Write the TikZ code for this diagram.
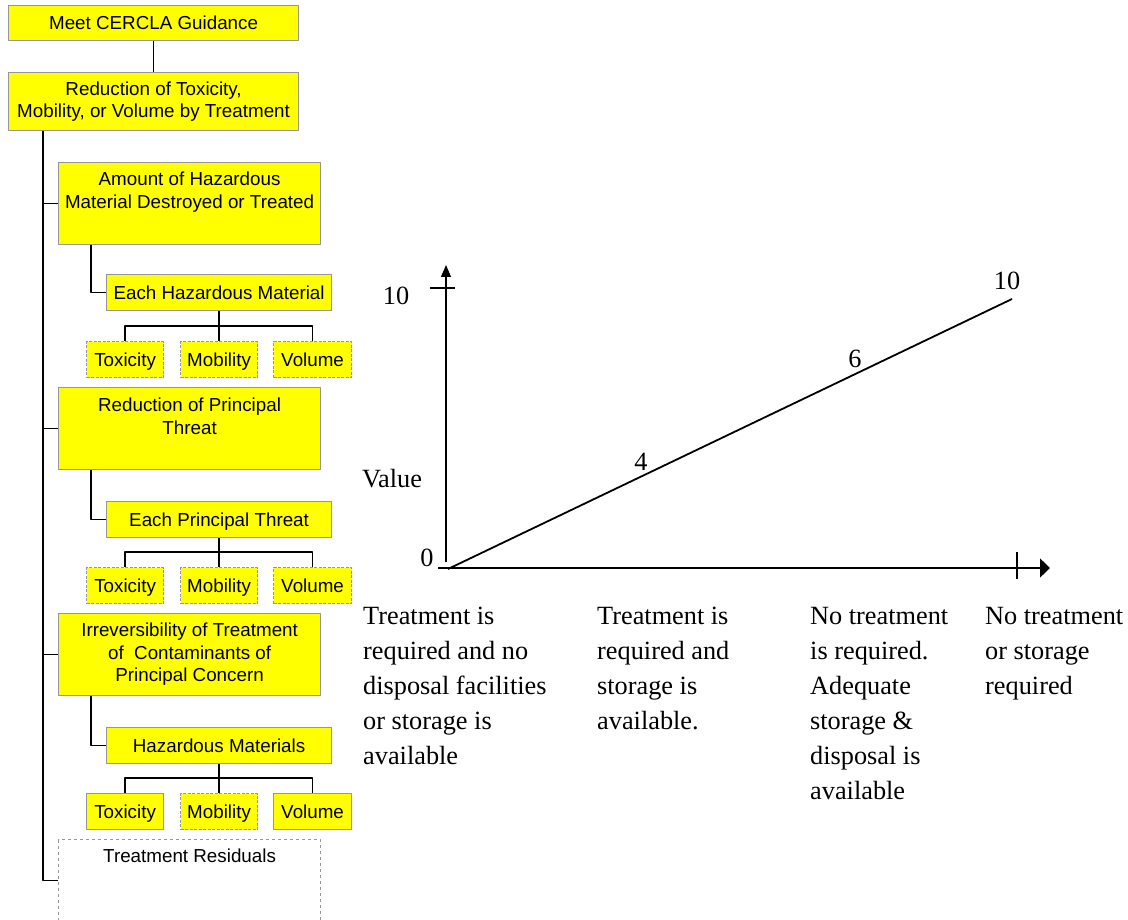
\documentclass[tikz,border=0pt]{standalone}
\usepackage{fontspec}
\setmainfont{Liberation Serif}
\newfontfamily\boxfont{Liberation Sans}
\usetikzlibrary{positioning,arrows.meta}
\definecolor{boxyellow}{RGB}{255,255,0}
\definecolor{boxgray}{RGB}{150,150,150}
\tikzset{
	crit/.style={draw=boxgray,line width=1.2pt,fill=boxyellow,inner sep=0pt,anchor=north west,align=center,font=\boxfont\fontsize{18.8}{22.5}\selectfont},
	oneline/.style={text height=13.5pt,text depth=0pt},
	leaf/.style={crit,oneline,minimum width=77pt,minimum height=36pt},
	dashedge/.style={dash pattern=on 3pt off 1.5pt},
	boxtext/.style={inner sep=0pt,align=center,font=\boxfont\fontsize{18.8}{22.5}\selectfont},
	link/.style={line width=1.5pt},
	lbl/.style={inner sep=0pt,anchor=base,font=\fontsize{26.3}{35}\selectfont},
	note/.style={inner sep=0pt,anchor=north west,align=left,font=\fontsize{26.3}{35}\selectfont}
}
\begin{document}
\begin{tikzpicture}[x=1pt,y=-1pt,line join=round]
		%==Phần thông số có thể tùy chỉnh
		\def\tx{43}
		\def\sx{91}
		%==============
		\useasboundingbox (0,0) rectangle (1128,920);
		%==Cây tiêu chí
		\node[crit,oneline,minimum width=290pt,minimum height=35pt] (goal) at (8,5) {Meet CERCLA Guidance};
		\node[crit,minimum width=290pt,minimum height=58pt] (reduce) at (8,72) {Reduction of Toxicity,\\Mobility, or Volume by Treatment};
		\draw[link] (goal)--(reduce);
		\node[crit,minimum width=262pt,minimum height=82pt] (amount) at (58,162) {};
		\node[boxtext,below=10pt of amount.north] (amounttxt) {Amount of Hazardous\\Material Destroyed or Treated};
		\node[crit,oneline,minimum width=225pt,minimum height=36pt] (each1) at (106,274) {Each Hazardous Material};
		\node[crit,minimum width=262pt,minimum height=82pt] (principal) at (58,387) {};
		\node[boxtext,below=11pt of principal.north] (principaltxt) {Reduction of Principal\\Threat};
		\node[crit,oneline,minimum width=225pt,minimum height=36pt] (each2) at (106,501) {Each Principal Threat};
		\node[crit,minimum width=262pt,minimum height=82pt] (irrev) at (58,613) {};
		\node[boxtext,below=10pt of irrev.north] (irrevtxt) {Irreversibility of Treatment\\of\ \ Contaminants of\\Principal Concern};
		\node[crit,oneline,minimum width=225pt,minimum height=36pt] (each3) at (106,727) {Hazardous Materials};
		\node[crit,fill=white,dashed,minimum width=262pt,minimum height=82pt] (residual) at (58,839) {};
		\node[boxtext,below=10pt of residual.north] (residualtxt) {Treatment Residuals};
		\foreach \g/\y/\ds in {1/341/dashedge,2/567/dashedge,3/793/solid}{
			\node[leaf,\ds] (tox\g) at (86,\y) {Toxicity};
			\node[leaf,dashedge] (mob\g) at (180,\y) {Mobility};
			\node[leaf,\ds,minimum width=78pt] (vol\g) at (273,\y) {Volume};
			\draw[link] (each\g)--(mob\g);
			\draw[link] (tox\g.north)--++(0,-15)-|(vol\g.north);
		}
		\coordinate (trunk) at (\tx,0);
		\coordinate (subtrunk) at (\sx,0);
		\draw[link] (trunk|-reduce.south)|-(residual.west);
		\foreach \b/\g in {amount/1,principal/2,irrev/3}{
			\draw[link] (trunk|-\b.west)--(\b.west);
			\draw[link] (subtrunk|-\b.south)|-(each\g.west);
		}
		%==Đồ thị giá trị
		\draw[line width=1.3pt,-{Triangle[length=12pt,width=10pt]}] (446,562)coordinate(Y0)--(446,265)coordinate(Y1);
		\draw[line width=1.3pt] (430,288)coordinate(T1)--(455,288)coordinate(T2);
		\draw[line width=1.3pt,-{Triangle[length=10pt,width=19pt]}] (438,568)coordinate(X0)--(1050,568)coordinate(X1);
		\draw[line width=1.3pt] (1017,552)coordinate(T3)--(1017,579)coordinate(T4);
		\draw[line width=1.8pt] (448,569)coordinate(A)--(1012,299)coordinate(B);
		\node[lbl] (ymax) at (396,305) {10};
		\node[lbl] (yname) at (392,487) {Value};
		\node[lbl] (ymin) at (427,566) {0};
		\node[lbl] (v4) at (641,470) {4};
		\node[lbl] (v6) at (855,367) {6};
		\node[lbl] (v10) at (1007,290) {10};
		\node[note] (c1) at (363,607) {Treatment is\\required and no\\disposal facilities\\or storage is\\available};
		\node[note] (c2) at (597,607) {Treatment is\\required and\\storage is\\available.};
		\node[note] (c3) at (810,607) {No treatment\\is required.\\Adequate\\storage \&\\disposal is\\available};
		\node[note] (c4) at (985,607) {No treatment\\or storage\\required};
		\end{tikzpicture}
\end{document}
